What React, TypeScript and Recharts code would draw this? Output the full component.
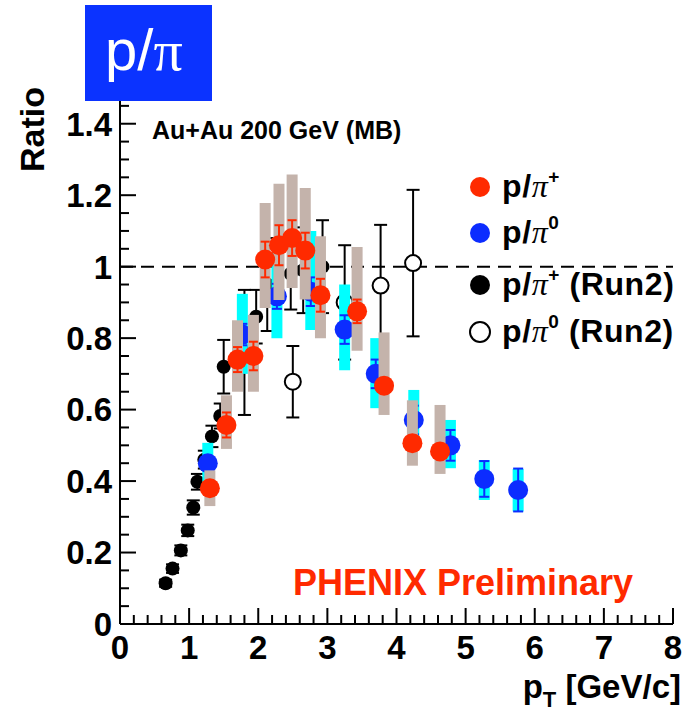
import React from 'react';
import { ComposedChart, Scatter, XAxis, YAxis, ReferenceLine, Legend } from 'recharts';

const W = 684;
const H = 711;

const FONT = '"Liberation Sans", Arial, Helvetica, sans-serif';
const SERIF = '"Liberation Serif", "DejaVu Serif", serif';

const RED = '#ff2a00';
const BLUE = '#0c2cff';
const CYAN = '#00ffff';
const TAN = '#c4b3ab';
const TITLE_BLUE = '#0b33ff';

// p/pi+ (this analysis): pT, ratio, stat error, systematic band edges
const piPlusPt = [1.3, 1.54, 1.7, 1.93, 2.1, 2.3, 2.49, 2.68, 2.9, 3.43, 3.82, 4.23, 4.63];
const piPlusRatio = [0.38, 0.557, 0.74, 0.75, 1.02, 1.06, 1.08, 1.045, 0.92, 0.875, 0.667, 0.506, 0.483];
const piPlusStat = [0.02, 0.035, 0.035, 0.04, 0.05, 0.056, 0.05, 0.05, 0.046, 0.033, 0.02, 0.02, 0.02];
const piPlusSysLow = [0.33, 0.49, 0.65, 0.65, 0.884, 0.907, 0.94, 0.908, 0.8, 0.765, 0.585, 0.443, 0.42];
const piPlusSysHigh = [0.43, 0.64, 0.85, 0.865, 1.178, 1.232, 1.258, 1.22, 1.085, 1.055, 0.816, 0.626, 0.613];

// p/pi0 (this analysis)
const piZeroPt = [1.27, 1.77, 2.27, 2.76, 3.25, 3.7, 4.25, 4.78, 5.27, 5.76];
const piZeroRatio = [0.45, 0.81, 0.917, 0.93, 0.824, 0.7, 0.571, 0.5, 0.406, 0.375];
const piZeroStat = [0.02, 0.03, 0.035, 0.04, 0.04, 0.04, 0.04, 0.043, 0.05, 0.06];
const piZeroSysLow = [0.395, 0.7, 0.8, 0.823, 0.71, 0.604, 0.49, 0.436, 0.347, 0.315];
const piZeroSysHigh = [0.507, 0.924, 1.04, 1.1, 0.95, 0.8, 0.655, 0.571, 0.459, 0.434];

// p/pi+ (Run2)
const run2PiPlusPt = [0.66, 0.76, 0.88, 0.98, 1.06, 1.12, 1.22, 1.33, 1.45, 1.5, 1.8, 1.97, 2.13, 2.47, 2.65, 2.93];
const run2PiPlusRatio = [0.114, 0.155, 0.206, 0.262, 0.326, 0.398, 0.46, 0.525, 0.582, 0.72, 0.76, 0.86, 0.95, 0.98, 0.99, 1.0];
const run2PiPlusErr = [0.01, 0.012, 0.014, 0.016, 0.02, 0.022, 0.025, 0.03, 0.035, 0.075, 0.175, 0.075, 0.13, 0.1, 0.12, 0.13];

// p/pi0 (Run2)
const run2PiZeroPt = [2.5, 3.25, 3.77, 4.24];
const run2PiZeroRatio = [0.678, 0.9, 0.947, 1.01];
const run2PiZeroErr = [0.1, 0.16, 0.17, 0.205];

// axis ticks
const xMajorTicks = [0, 1, 2, 3, 4, 5, 6, 7, 8];
const xMinorStep = 0.2;
const yMajorTicks = [0, 0.2, 0.4, 0.6, 0.8, 1.0, 1.2, 1.4];
const yTickLabels = ['0', '0.2', '0.4', '0.6', '0.8', '1', '1.2', '1.4'];
const yMinorStep = 0.05;
const X_DOMAIN: [number, number] = [0, 8];
const Y_DOMAIN: [number, number] = [0, 1.5];

const xTicks: number[] = [];
for (let i = 0; i <= Math.round(X_DOMAIN[1] / xMinorStep); i++) xTicks.push(+(i * xMinorStep).toFixed(4));
const yTicks: number[] = [];
for (let i = 0; i <= Math.round(Y_DOMAIN[1] / yMinorStep); i++) yTicks.push(+(i * yMinorStep).toFixed(4));

const isXMajor = (v: number) => xMajorTicks.some((t) => Math.abs(t - v) < 1e-6);
const yMajorIndex = (v: number) => yMajorTicks.findIndex((t) => Math.abs(t - v) < 1e-6);

// each error bar / band becomes a two-point segment in data space
const points = (pt: number[], r: number[]) => pt.map((x, i) => ({ x, y: r[i] }));
const symSegments = (pt: number[], r: number[], err: number[]) =>
  pt.map((x, i) => [{ x, y: r[i] - err[i] }, { x, y: r[i] + err[i] }]);
const bandSegments = (pt: number[], lo: number[], hi: number[]) =>
  pt.map((x, i) => [{ x, y: lo[i] }, { x, y: hi[i] }]);

const MAJOR = 16;
const MINOR = 9;
const TICK_W = 2;
const TICK_FONT = 33;

const LeftTick = (p: any) => {
  const idx = yMajorIndex(p.payload.value);
  const len = idx >= 0 ? MAJOR : MINOR;
  return (
    <g>
      <line x1={p.x} x2={p.x + len} y1={p.y} y2={p.y} stroke="#000" strokeWidth={TICK_W} />
      {idx >= 0 && (
        <text x={p.x - 8} y={p.y} dy="0.36em" textAnchor="end" fontFamily={FONT} fontWeight="bold" fontSize={TICK_FONT} fill="#000">
          {yTickLabels[idx]}
        </text>
      )}
    </g>
  );
};

const RightTick = (p: any) => {
  const len = yMajorIndex(p.payload.value) >= 0 ? MAJOR : MINOR;
  return <line x1={p.x} x2={p.x - len} y1={p.y} y2={p.y} stroke="#000" strokeWidth={TICK_W} />;
};

const BottomTick = (p: any) => {
  const major = isXMajor(p.payload.value);
  const len = major ? MAJOR : MINOR;
  return (
    <g>
      <line x1={p.x} x2={p.x} y1={p.y} y2={p.y - len} stroke="#000" strokeWidth={TICK_W} />
      {major && (
        <text x={p.x} y={p.y + 35} textAnchor="middle" fontFamily={FONT} fontWeight="bold" fontSize={TICK_FONT} fill="#000">
          {String(p.payload.value)}
        </text>
      )}
    </g>
  );
};

const TopTick = (p: any) => {
  const len = isXMajor(p.payload.value) ? MAJOR : MINOR;
  return <line x1={p.x} x2={p.x} y1={p.y} y2={p.y + len} stroke="#000" strokeWidth={TICK_W} />;
};

const Blank = () => <g />;
const makeDot = (r: number, fill: string, stroke = 'none') => (p: any) =>
  <circle cx={p.cx} cy={p.cy} r={r} fill={fill} stroke={stroke} strokeWidth={2} />;
const makeCap = (w: number, color: string) => (p: any) =>
  <line x1={p.cx - w / 2} x2={p.cx + w / 2} y1={p.cy} y2={p.cy} stroke={color} strokeWidth={2} />;

const RedDot = makeDot(10, RED);
const BlueDot = makeDot(10, BLUE);
const BlackDot = makeDot(7, '#000');
const OpenDot = makeDot(8, '#fff', '#000');
const RedCap = makeCap(9, RED);
const BlueCap = makeCap(10, BLUE);
const BlackCap = makeCap(13, '#000');

const legendRows = [
  { color: RED, open: false, sup: '+', tail: '' },
  { color: BLUE, open: false, sup: '0', tail: '' },
  { color: '#000', open: false, sup: '+', tail: ' (Run2)' },
  { color: '#000', open: true, sup: '0', tail: ' (Run2)' },
];
const legendRowY = [19, 65, 117, 164];

const LegendBox = () => (
  <svg width={218} height={190} style={{ overflow: 'visible' }}>
    {legendRows.map((row, i) => {
      const cy = legendRowY[i];
      return (
        <g key={i}>
          <circle cx={14} cy={cy} r={10} fill={row.open ? '#fff' : row.color} stroke={row.open ? '#000' : 'none'} strokeWidth={2} />
          <text x={36} y={cy + 10} fontFamily={FONT} fontWeight="bold" fontSize={32} letterSpacing={0.6} fill="#000">
            p/
            <tspan fontFamily={SERIF} fontStyle="italic" fontWeight="normal">π</tspan>
            <tspan dy={-14} fontSize={19}>{row.sup}</tspan>
            <tspan dy={14}>{row.tail}</tspan>
          </text>
        </g>
      );
    })}
  </svg>
);

const axisStyle = { stroke: '#000', strokeWidth: 2 };

const segmentSeries = (segs: { x: number; y: number }[][], color: string, width: number, cap: any, tag: string) =>
  segs.map((d, i) => (
    <Scatter
      key={`${tag}-${i}`}
      data={d}
      shape={cap}
      line={{ stroke: color, strokeWidth: width }}
      lineType="joint"
      isAnimationActive={false}
    />
  ));

export default function App() {
  return (
    <div style={{ position: 'absolute', left: 0, top: 0, width: W, height: H, background: '#fff' }}>
      <ComposedChart width={W} height={H} margin={{ top: 88, right: 11, bottom: 0, left: 0 }}>
        <XAxis
          type="number"
          dataKey="x"
          domain={X_DOMAIN}
          ticks={xTicks}
          interval={0}
          height={87}
          tickSize={0}
          tickMargin={0}
          axisLine={axisStyle}
          tickLine={false}
          tick={(p: any) => <BottomTick {...p} />}
          allowDataOverflow
        />
        <XAxis
          xAxisId="top"
          orientation="top"
          type="number"
          domain={X_DOMAIN}
          ticks={xTicks}
          interval={0}
          height={0}
          tickSize={0}
          tickMargin={0}
          axisLine={axisStyle}
          tickLine={false}
          tick={(p: any) => <TopTick {...p} />}
          allowDataOverflow
        />
        <YAxis
          type="number"
          dataKey="y"
          domain={Y_DOMAIN}
          ticks={yTicks}
          interval={0}
          width={120}
          tickSize={0}
          tickMargin={0}
          axisLine={axisStyle}
          tickLine={false}
          tick={(p: any) => <LeftTick {...p} />}
          allowDataOverflow
        />
        <YAxis
          yAxisId="right"
          orientation="right"
          type="number"
          domain={Y_DOMAIN}
          ticks={yTicks}
          interval={0}
          width={0}
          tickSize={0}
          tickMargin={0}
          axisLine={axisStyle}
          tickLine={false}
          tick={(p: any) => <RightTick {...p} />}
          allowDataOverflow
        />

        <ReferenceLine y={1} stroke="#000" strokeWidth={2} strokeDasharray="13 8" />

        {/* Run2 p/pi+ */}
        {segmentSeries(symSegments(run2PiPlusPt, run2PiPlusRatio, run2PiPlusErr), '#000', 2, BlackCap, 'r2p-stat')}
        <Scatter data={points(run2PiPlusPt, run2PiPlusRatio)} shape={BlackDot} isAnimationActive={false} />

        {/* Run2 p/pi0 */}
        {segmentSeries(symSegments(run2PiZeroPt, run2PiZeroRatio, run2PiZeroErr), '#000', 2, BlackCap, 'r2z-stat')}
        <Scatter data={points(run2PiZeroPt, run2PiZeroRatio)} shape={OpenDot} isAnimationActive={false} />

        {/* p/pi0: systematic bands, statistical bars, points */}
        {segmentSeries(bandSegments(piZeroPt, piZeroSysLow, piZeroSysHigh), CYAN, 11, Blank, 'pz-sys')}
        {segmentSeries(symSegments(piZeroPt, piZeroRatio, piZeroStat), BLUE, 2, BlueCap, 'pz-stat')}
        <Scatter data={points(piZeroPt, piZeroRatio)} shape={BlueDot} isAnimationActive={false} />

        {/* p/pi+: systematic bands, statistical bars, points */}
        {segmentSeries(bandSegments(piPlusPt, piPlusSysLow, piPlusSysHigh), TAN, 11, Blank, 'pp-sys')}
        {segmentSeries(symSegments(piPlusPt, piPlusRatio, piPlusStat), RED, 2, RedCap, 'pp-stat')}
        <Scatter data={points(piPlusPt, piPlusRatio)} shape={RedDot} isAnimationActive={false} />

        <Legend
          layout="vertical"
          align="center"
          verticalAlign="middle"
          content={() => <LegendBox />}
          wrapperStyle={{ left: 466, top: 168, width: 218, height: 190 }}
        />
      </ComposedChart>

      <svg width={W} height={H} style={{ position: 'absolute', left: 0, top: 0, pointerEvents: 'none' }}>
        <rect x={85} y={5} width={127} height={96} fill={TITLE_BLUE} />
        <text x={105} y={70} fill="#fff" fontFamily={FONT} fontSize={58}>
          p/<tspan fontFamily={SERIF}>π</tspan>
        </text>
        <text x={152} y={139} fontFamily={FONT} fontWeight="bold" fontSize={25} fill="#000">
          Au+Au 200 GeV (MB)
        </text>
        <text x={293} y={595} fontFamily={FONT} fontWeight="bold" fontSize={36} fill={RED}>
          PHENIX Preliminary
        </text>
        <text transform="rotate(-90)" x={-87} y={44} textAnchor="end" fontFamily={FONT} fontWeight="bold" fontSize={34} fill="#000">
          Ratio
        </text>
        <text x={681} y={698} textAnchor="end" fontFamily={FONT} fontWeight="bold" fontSize={33} fill="#000">
          p<tspan dy={9} fontSize={22}>T</tspan>
          <tspan dy={-9}> [GeV/c]</tspan>
        </text>
      </svg>
    </div>
  );
}
